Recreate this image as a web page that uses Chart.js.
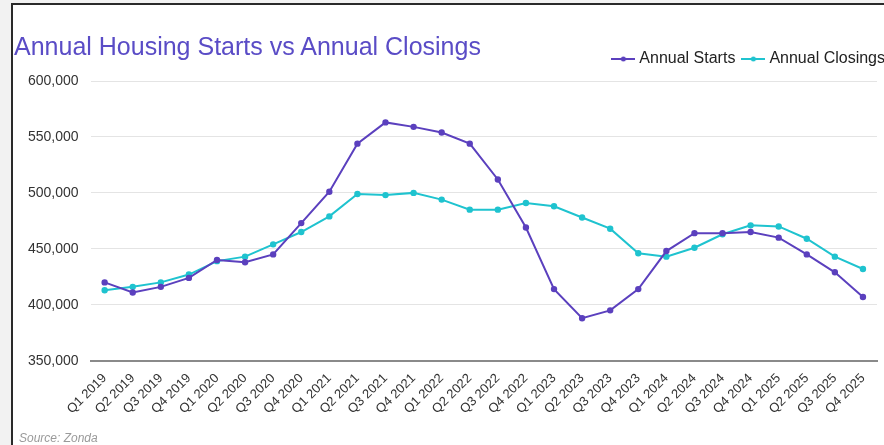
<!DOCTYPE html>
<html>
<head>
<meta charset="utf-8">
<script src="https://cdn.jsdelivr.net/npm/chart.js@4.4.1/dist/chart.umd.min.js"></script>
<style>
  html, body { margin: 0; padding: 0; width: 884px; height: 445px; overflow: hidden; background: #f2f2f2; font-family: "Liberation Sans", Arial, sans-serif; }
  #frame { position: absolute; left: 11px; top: 3px; width: 900px; height: 460px; background: #fff; border-left: 2px solid #2a2a2a; border-top: 2px solid #2a2a2a; }
  #titulo { position: absolute; left: 1px; top: 27px; font-size: 25px; color: #5a4cc6; white-space: nowrap; }
  #fuente { position: absolute; left: 6px; top: 426px; font-size: 12px; font-style: italic; color: #9a9a9a; }
  #caja { position: absolute; left: 0; top: 0; width: 882px; height: 430px; }
</style>
</head>
<body>
<div id="frame">
  <div id="caja"><canvas id="grafica"></canvas></div>
  <div id="titulo">Annual Housing Starts vs Annual Closings</div>
  <div id="fuente">Source: Zonda</div>
</div>
<script>
const trimestres = ['Q1 2019','Q2 2019','Q3 2019','Q4 2019','Q1 2020','Q2 2020','Q3 2020','Q4 2020',
  'Q1 2021','Q2 2021','Q3 2021','Q4 2021','Q1 2022','Q2 2022','Q3 2022','Q4 2022',
  'Q1 2023','Q2 2023','Q3 2023','Q4 2023','Q1 2024','Q2 2024','Q3 2024','Q4 2024',
  'Q1 2025','Q2 2025','Q3 2025','Q4 2025'];
const inicios = [420000, 411000, 416000, 424000, 440000, 438000, 445000, 473000,
  501000, 544000, 563000, 559000, 554000, 544000, 512000, 469000,
  414000, 388000, 395000, 414000, 448000, 464000, 464000, 465000,
  460000, 445000, 429000, 407000];
const cierres = [413000, 416000, 420000, 427000, 439000, 443000, 454000, 465000,
  479000, 499000, 498000, 500000, 494000, 485000, 485000, 491000,
  488000, 478000, 468000, 446000, 443000, 451000, 463000, 471000,
  470000, 459000, 443000, 432000];
const ticksY = [350000, 400000, 450000, 500000, 550000, 600000];

const colorInicios = '#5b40be';
const colorCierres = '#1fc3cf';

// marcador de leyenda: linea con punto
const marcador = (color) => {
  const c = document.createElement('canvas');
  c.width = 24; c.height = 8;
  const g = c.getContext('2d');
  g.strokeStyle = color; g.lineWidth = 2;
  g.beginPath(); g.moveTo(0, 4); g.lineTo(24, 4); g.stroke();
  g.fillStyle = color;
  g.beginPath(); g.arc(12, 4, 2.5, 0, Math.PI * 2); g.fill();
  return c;
};

const ctx = document.getElementById('grafica').getContext('2d');
new Chart(ctx, {
  type: 'line',
  data: {
    labels: trimestres,
    datasets: [{
      label: 'Annual Starts',
      data: inicios,
      borderColor: colorInicios,
      backgroundColor: colorInicios,
      borderWidth: 2,
      pointRadius: 2.2,
      tension: 0
    }, {
      label: 'Annual Closings',
      data: cierres,
      borderColor: colorCierres,
      backgroundColor: colorCierres,
      borderWidth: 2,
      pointRadius: 2.2,
      tension: 0
    }]
  },
  options: {
    responsive: true,
    maintainAspectRatio: false,
    animation: false,
    layout: { padding: { left: 3, right: 0, top: 36, bottom: 16 } },
    scales: {
      x: {
        offset: true,
        grid: { display: false },
        border: { display: true, color: '#8a8a8a', width: 2 },
        ticks: { color: '#333', font: { size: 13, family: 'Liberation Sans' }, minRotation: 45, maxRotation: 45, autoSkip: false, padding: 2 }
      },
      y: {
        min: 350000,
        max: 600000,
        afterBuildTicks: (axis) => { axis.ticks = ticksY.map(v => ({ value: v })); },
        grid: { color: '#e4e4e4', lineWidth: 1, drawTicks: false },
        border: { display: false },
        ticks: { color: '#333', font: { size: 14, family: 'Liberation Sans' }, padding: 12,
          callback: (v) => v.toLocaleString('en-US') }
      },
      margen: {
        position: 'right',
        display: true,
        grid: { display: false },
        border: { display: false },
        ticks: { display: false },
        afterFit: (s) => { s.width = 18; }
      },
      arriba: {
        type: 'category',
        position: 'top',
        display: true,
        grid: { display: false },
        border: { display: false },
        ticks: { display: false },
        afterFit: (s) => { s.height = 4; }
      }
    },
    plugins: {
      legend: {
        display: true,
        position: 'top',
        align: 'end',
        labels: {
          color: '#222',
          font: { size: 16, family: 'Liberation Sans' },
          usePointStyle: true,
          pointStyleWidth: 16,
          boxWidth: 16,
          padding: 10,
          generateLabels: (chart) => {
            const base = Chart.defaults.plugins.legend.labels.generateLabels(chart);
            base.forEach(item => { item.pointStyle = marcador(item.strokeStyle); });
            return base;
          }
        }
      },
      tooltip: { enabled: false }
    }
  }
});
</script>
</body>
</html>
